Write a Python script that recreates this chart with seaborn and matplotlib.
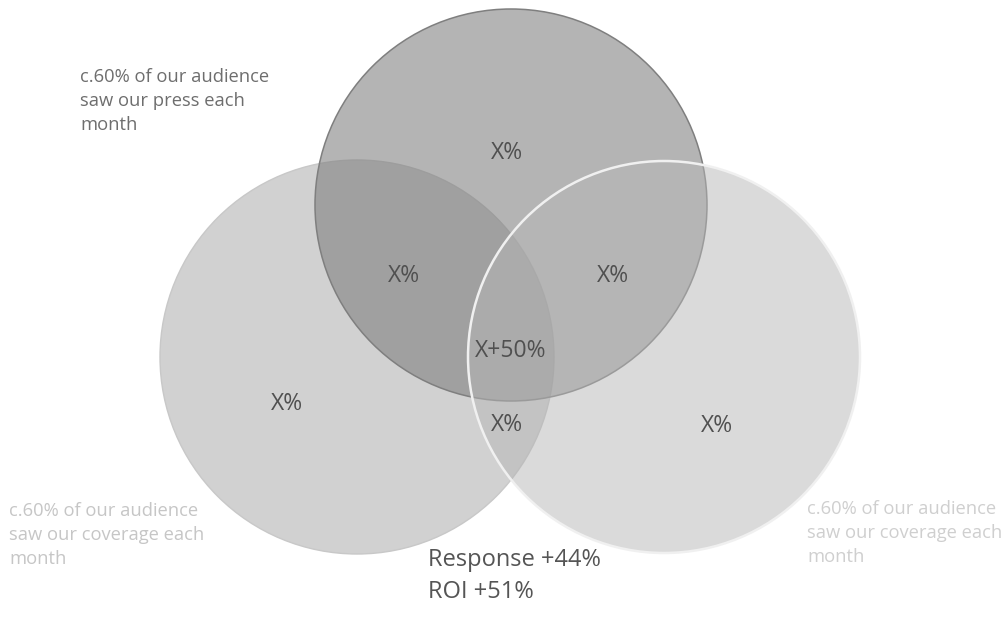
import matplotlib
matplotlib.use("Agg")
import matplotlib.pyplot as plt
from matplotlib.patches import Circle
import seaborn as sns

# Set names and region labels of the three-way overlap
set_names = ["press", "coverage (left)", "coverage (right)"]
set_notes = [
    "c.60% of our audience\nsaw our press each\nmonth",
    "c.60% of our audience\nsaw our coverage each\nmonth",
    "c.60% of our audience\nsaw our coverage each\nmonth",
]
region_keys = ["100", "110", "101", "111", "010", "011", "001"]
region_labels = ["X%", "X%", "X%", "X+50%", "X%", "X%", "X%"]
summary_lines = ["Response +44%", "ROI +51%"]

sns.set_theme(style="white")
plt.rcParams["font.family"] = ["Open Sans", "DejaVu Sans"]

W, H = 1008, 631
fig = plt.figure(figsize=(W / 100, H / 100), dpi=100)
ax = fig.add_axes([0, 0, 1, 1])
ax.set_xlim(0, W)
ax.set_ylim(H, 0)
ax.set_aspect("equal")
ax.axis("off")

# circle geometry (canvas units): press on top, coverage left and right
geom = {
    "press": dict(c=(511, 205), r=196),
    "coverage (left)": dict(c=(357, 357), r=197),
    "coverage (right)": dict(c=(664, 357), r=196),
}
styles = {
    "coverage (left)": dict(fc="#d1d1d1", alpha=1.0, ec="#c8c8c8", lw=1.0, z=1),
    "press": dict(fc="#7e7e7e", alpha=0.58, ec="#7f7f7f", lw=1.1, z=2),
    "coverage (right)": dict(fc="#b6b6b6", alpha=0.5, ec="#f0f0f0", lw=1.8, z=3),
}
for name in ["coverage (left)", "press", "coverage (right)"]:
    g, s = geom[name], styles[name]
    ax.add_patch(Circle(g["c"], g["r"], facecolor=s["fc"], alpha=s["alpha"],
                        edgecolor="none", zorder=s["z"]))
    ax.add_patch(Circle(g["c"], g["r"], facecolor="none", edgecolor=s["ec"],
                        lw=s["lw"], zorder=s["z"] + 0.5))

# region label anchors
label_pos = {
    "100": (507, 153), "110": (404, 276), "101": (613, 276),
    "111": (511, 351), "010": (287, 404), "011": (507, 425), "001": (717, 426),
}
for key, text in zip(region_keys, region_labels):
    x, y = label_pos[key]
    ax.text(x, y, text, ha="center", va="center", fontsize=16.5,
            color="#505050", zorder=10)

# set annotations
note_style = [
    dict(xy=(80, 101), color="#6e6e6e"),
    dict(xy=(9, 535), color="#c6c6c6"),
    dict(xy=(807, 533), color="#cfcfcf"),
]
for note, st in zip(set_notes, note_style):
    ax.text(*st["xy"], note, ha="left", va="center", fontsize=13.2,
            color=st["color"], linespacing=1.45, zorder=10)

ax.text(428, 576, "\n".join(summary_lines), ha="left", va="center",
        fontsize=17, color="#555555", linespacing=1.5, zorder=10)

fig.savefig("out.png", dpi=100, facecolor="white")
